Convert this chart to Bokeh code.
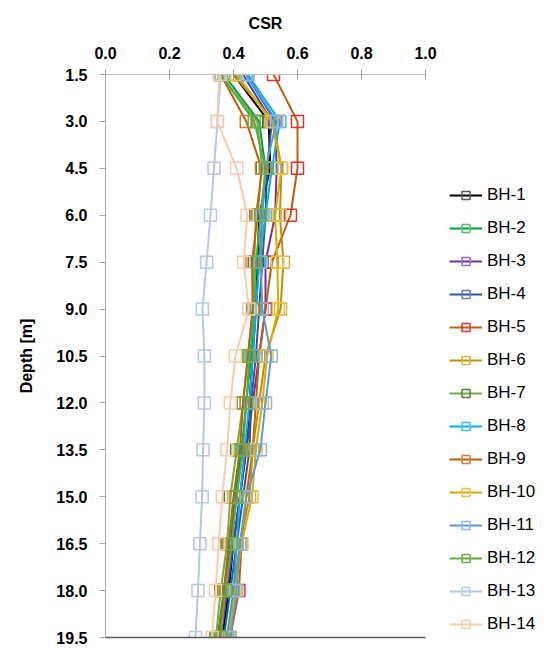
from bokeh.plotting import figure
from bokeh.models import Range1d, FixedTicker, LinearAxis, Legend, LegendItem, NumeralTickFormatter
from bokeh.embed import file_html
from bokeh.resources import INLINE

depth = [1.5, 3.0, 4.5, 6.0, 7.5, 9.0, 10.5, 12.0, 13.5, 15.0, 16.5, 18.0, 19.5]
x_ticks = [0.0, 0.2, 0.4, 0.6, 0.8, 1.0]

series_names = ["BH-1", "BH-2", "BH-3", "BH-4", "BH-5", "BH-6", "BH-7",
                "BH-8", "BH-9", "BH-10", "BH-11", "BH-12", "BH-13", "BH-14"]

bh1 = [0.40, 0.51, 0.515, 0.48, 0.475, 0.47, 0.46, 0.45, 0.44, 0.42, 0.40, 0.385, 0.365]
bh2 = [0.37, 0.48, 0.50, 0.49, 0.48, 0.47, 0.455, 0.44, 0.425, 0.405, 0.39, 0.37, 0.35]
bh3 = [0.44, 0.53, 0.535, 0.53, 0.50, 0.50, 0.48, 0.46, 0.44, 0.42, 0.40, 0.38, 0.36]
bh4 = [0.43, 0.52, 0.505, 0.50, 0.49, 0.48, 0.47, 0.455, 0.45, 0.43, 0.41, 0.39, 0.37]
bh5 = [0.525, 0.60, 0.60, 0.578, 0.52, 0.50, 0.48, 0.47, 0.46, 0.44, 0.425, 0.417, 0.39]
bh6 = [0.40, 0.525, 0.55, 0.545, 0.556, 0.547, 0.50, 0.48, 0.46, 0.45, 0.42, 0.40, 0.38]
bh7 = [0.36, 0.474, 0.49, 0.47, 0.465, 0.46, 0.445, 0.43, 0.41, 0.39, 0.38, 0.36, 0.345]
bh8 = [0.445, 0.545, 0.52, 0.50, 0.48, 0.47, 0.46, 0.45, 0.435, 0.42, 0.41, 0.40, 0.38]
bh9 = [0.36, 0.44, 0.4875, 0.475, 0.458, 0.46, 0.445, 0.43, 0.42, 0.40, 0.385, 0.37, 0.355]
bh10 = [0.41, 0.52, 0.55, 0.53, 0.537, 0.54, 0.505, 0.49, 0.47, 0.458, 0.425, 0.405, 0.385]
bh11 = [0.44, 0.535, 0.50, 0.49, 0.485, 0.49, 0.518, 0.50, 0.484, 0.44, 0.42, 0.41, 0.39]
bh12 = [0.36, 0.465, 0.50, 0.485, 0.47, 0.465, 0.45, 0.44, 0.43, 0.41, 0.395, 0.375, 0.36]
bh13 = [0.36, 0.35, 0.339, 0.328, 0.316, 0.303, 0.309, 0.309, 0.305, 0.302, 0.295, 0.289, 0.281]
bh14 = [0.355, 0.349, 0.41, 0.443, 0.432, 0.448, 0.406, 0.39, 0.38, 0.365, 0.354, 0.344, 0.333]

values = [bh1, bh2, bh3, bh4, bh5, bh6, bh7, bh8, bh9, bh10, bh11, bh12, bh13, bh14]

line_colors = ["#000000", "#00A03C", "#7030A0", "#2F5597", "#C55A11", "#BF9000", "#70AD47",
               "#00B0F0", "#C55A11", "#E0A800", "#5B9BD5", "#5FA83A", "#B4C7E7", "#F8CBAD"]
marker_colors = ["#595959", "#4CC870", "#9A6CC8", "#5B7FC0", "#E03030", "#D9B340", "#548235",
                 "#40BDF0", "#E07830", "#EFC040", "#8DB8E6", "#70AD47", "#B4C7E7", "#F8CBAD"]

p = figure(width=550, height=645, output_backend="svg", toolbar_location=None,
           x_axis_location="above", x_range=Range1d(0, 1), y_range=Range1d(19.5, 1.5),
           frame_width=320, frame_height=563, min_border_left=105, min_border_top=74,
           min_border_bottom=8, min_border_right=0)
p.outline_line_color = None
p.xgrid.grid_line_color = None
p.ygrid.grid_line_color = None

items = []
for name, vals, lc, mc in zip(series_names, values, line_colors, marker_colors):
    r1 = p.line(vals, depth, line_color=lc, line_width=2)
    r2 = p.scatter(vals, depth, marker="square", size=12, fill_color=None,
                   line_color=mc, line_width=1.5)
    items.append(LegendItem(label=name, renderers=[r1, r2]))

font = "Liberation Sans"

xa = p.xaxis[0]
xa.ticker = FixedTicker(ticks=x_ticks)
xa.formatter = NumeralTickFormatter(format="0.0")
xa.axis_label = "CSR"
xa.axis_label_text_font = font
xa.axis_label_text_font_style = "bold"
xa.axis_label_text_font_size = "16px"
xa.axis_label_text_color = "#000000"
xa.axis_label_standoff = 12
xa.major_label_text_font = font
xa.major_label_text_font_style = "bold"
xa.major_label_text_font_size = "16px"
xa.major_label_text_color = "#000000"
xa.major_label_standoff = 11
xa.axis_line_color = "#BFBFBF"
xa.major_tick_line_color = "#A0A0A0"
xa.major_tick_in = 5
xa.major_tick_out = 5
xa.minor_tick_line_color = None

ya = p.yaxis[0]
ya.ticker = FixedTicker(ticks=depth)
ya.formatter = NumeralTickFormatter(format="0.0")
ya.axis_label = "Depth [m]"
ya.axis_label_text_font = font
ya.axis_label_text_font_style = "bold"
ya.axis_label_text_font_size = "16px"
ya.axis_label_text_color = "#000000"
ya.axis_label_standoff = 18
ya.major_label_text_font = font
ya.major_label_text_font_style = "bold"
ya.major_label_text_font_size = "16px"
ya.major_label_text_color = "#000000"
ya.major_label_standoff = 12
ya.axis_line_color = "#A6A6A6"
ya.major_tick_line_color = "#A6A6A6"
ya.major_tick_in = 0
ya.major_tick_out = 6
ya.minor_tick_line_color = None

bottom = LinearAxis(major_tick_line_color=None, minor_tick_line_color=None,
                    major_label_text_font_size="0px", axis_line_color="#595959",
                    axis_line_width=1.5, ticker=FixedTicker(ticks=[]))
p.add_layout(bottom, "below")

legend = Legend(items=items, location=(24, 3), orientation="vertical",
                label_text_font=font, label_text_font_size="17px",
                label_text_color="#000000", glyph_width=33, glyph_height=20,
                label_height=20, spacing=13, padding=0, margin=0,
                label_standoff=5, border_line_color=None,
                background_fill_alpha=0)
p.add_layout(legend, "right")

open("out.html", "w").write(file_html(p, INLINE))
